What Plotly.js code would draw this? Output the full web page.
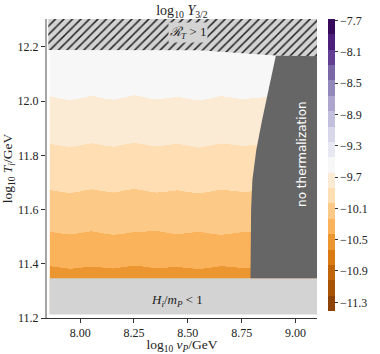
<!DOCTYPE html>
<html>
<head>
<meta charset="utf-8">
<script src="https://cdn.plot.ly/plotly-3.0.1.min.js"></script>
<style>
  html, body { margin: 0; padding: 0; background: #fff; }
  #plot { width: 380px; height: 354px; }
</style>
</head>
<body>
<div id="plot"></div>
<script>
// grid of log10 vP (columns) and log10 Ti (rows)
let vP = [7.858, 7.95, 8.05, 8.15, 8.25, 8.35, 8.45, 8.55, 8.65, 8.75, 8.85, 8.95, 9.1];
let Ti = [11.213, 11.347, 11.388, 11.515, 11.669, 11.838, 12.013, 12.189, 12.303];
// log10 Y_{3/2}, one row per Ti
let logY = [
  [-10.56, -10.56, -10.56, -10.56, -10.56, -10.56, -10.56, -10.56, -10.56, -10.56, -10.56, -10.56, -10.56],
  [-10.49, -10.49, -10.49, -10.49, -10.49, -10.49, -10.49, -10.49, -10.49, -10.49, -10.49, -10.49, -10.49],
  [-10.436, -10.420, -10.434, -10.422, -10.440, -10.424, -10.432, -10.418, -10.437, -10.425, -10.433, -10.433, -10.433],
  [-10.240, -10.226, -10.243, -10.224, -10.238, -10.245, -10.228, -10.241, -10.223, -10.239, -10.236, -10.236, -10.236],
  [-10.042, -10.028, -10.045, -10.031, -10.047, -10.030, -10.041, -10.026, -10.044, -10.034, -10.039, -10.039, -10.039],
  [-9.846, -9.832, -9.849, -9.834, -9.851, -9.835, -9.847, -9.830, -9.848, -9.838, -9.843, -9.843, -9.843],
  [-9.650, -9.636, -9.652, -9.638, -9.654, -9.639, -9.649, -9.635, -9.651, -9.641, -9.647, -9.647, -9.647],
  [-9.50, -9.50, -9.50, -9.50, -9.50, -9.50, -9.50, -9.50, -9.50, -9.50, -9.50, -9.50, -9.50],
  [-9.46, -9.46, -9.46, -9.46, -9.46, -9.46, -9.46, -9.46, -9.46, -9.46, -9.46, -9.46, -9.46]
];
let cbMin = -11.41, cbMax = -7.68, nBands = 19;
let cbTicks = [-7.7, -8.1, -8.5, -8.9, -9.3, -9.7, -10.1, -10.5, -10.9, -11.3];

// excluded regions
let rtX = [7.852, 8.55, 8.91, 9.1, 9.1, 7.852];            // R_T > 1 (hatched)
let rtY = [12.189, 12.188, 12.168, 12.166, 12.303, 12.303];
let ntX = [8.791, 8.791, 8.794, 8.800, 8.818, 8.845, 8.868, 8.909, 9.1, 9.1]; // no thermalization
let ntY = [11.347, 11.50, 11.60, 11.71, 11.82, 11.93, 12.02, 12.168, 12.168, 11.347];
let hmX = [7.858, 9.1, 9.1, 7.858];                           // H_i/m_P < 1
let hmY = [11.213, 11.213, 11.347, 11.347];

// matplotlib PuOr
let puor = ['#7f3b08', '#b35806', '#e08214', '#fdb863', '#fee0b6', '#f7f7f7',
            '#d8daeb', '#b2abd2', '#8073ac', '#542788', '#2d004b'];

function puorAt(t) {
  let p = t * (puor.length - 1);
  let i = Math.min(Math.floor(p), puor.length - 2);
  let f = p - i;
  let a = puor[i], b = puor[i + 1];
  let c = [1, 3, 5].map(function(k) {
    let u = parseInt(a.substr(k, 2), 16), v = parseInt(b.substr(k, 2), 16);
    return Math.round(u + (v - u) * f);
  });
  return 'rgb(' + c.join(',') + ')';
}

// one flat colour per contour band, like contourf
let bandScale = [];
for (let j = 0; j < nBands; j++) {
  let c = puorAt((j + 0.5) / nBands);
  bandScale.push([j / nBands, c]);
  bandScale.push([(j + 1) / nBands, c]);
}

let serif = 'Liberation Serif, Times New Roman, serif';

let contour = {
  type: 'contour',
  x: vP, y: Ti, z: logY,
  colorscale: bandScale,
  zauto: false, zmin: cbMin, zmax: cbMax,
  contours: {coloring: 'heatmap', showlines: false},
  line: {width: 0},
  hoverinfo: 'skip',
  colorbar: {
    x: 1.04, xanchor: 'left', xpad: 0,
    y: 0.512, yanchor: 'middle', ypad: 0,
    len: 292, lenmode: 'pixels',
    thickness: 6.5, thicknessmode: 'pixels',
    outlinewidth: 0,
    tickvals: cbTicks,
    ticks: 'outside', ticklen: 3, tickcolor: '#333',
    tickfont: {family: serif, size: 12, color: '#222'}
  }
};

let hatch = {
  type: 'scatter', mode: 'lines', x: rtX, y: rtY,
  fill: 'toself', fillcolor: '#d3d3d3',
  fillpattern: {shape: '/', bgcolor: '#d3d3d3', fgcolor: '#222', size: 6, solidity: 0.25},
  line: {width: 0}, hoverinfo: 'skip', showlegend: false
};
let noTherm = {
  type: 'scatter', mode: 'lines', x: ntX, y: ntY,
  fill: 'toself', fillcolor: '#666666',
  line: {width: 0}, hoverinfo: 'skip', showlegend: false
};
let lowH = {
  type: 'scatter', mode: 'lines', x: hmX, y: hmY,
  fill: 'toself', fillcolor: '#d3d3d3',
  line: {width: 0}, hoverinfo: 'skip', showlegend: false
};

let layout = {
  width: 380, height: 354,
  margin: {l: 47, r: 58, t: 19, b: 36},
  paper_bgcolor: '#fff', plot_bgcolor: '#fff',
  showlegend: false,
  font: {family: serif, size: 12, color: '#222'},
  title: {
    text: 'log<sub>10</sub> <i>Y</i><sub>3/2</sub>',
    font: {family: serif, size: 14, color: '#222'},
    x: 0.5, xref: 'paper', y: 0.972, yref: 'container', yanchor: 'middle'
  },
  xaxis: {
    range: [7.846, 9.1],
    tickvals: [8.0, 8.25, 8.5, 8.75, 9.0], tickformat: '.2f',
    ticks: 'outside', ticklen: 4, tickcolor: '#333',
    showline: true, linecolor: '#333', linewidth: 1,
    showgrid: false, zeroline: false,
    tickfont: {family: serif, size: 12, color: '#222'},
    title: {text: 'log<sub>10</sub> <i>v<sub>P</sub></i>/GeV', font: {family: serif, size: 13.5, color: '#222'}, standoff: 8}
  },
  yaxis: {
    range: [11.2, 12.303],
    tick0: 11.2, dtick: 0.2, tickformat: '.1f',
    ticks: 'outside', ticklen: 4, tickcolor: '#333',
    showline: true, linecolor: '#a6a6a6', linewidth: 2,
    showgrid: false, zeroline: false,
    tickfont: {family: serif, size: 12, color: '#222'},
    title: {text: 'log<sub>10</sub> <i>T<sub>i</sub></i>/GeV', font: {family: serif, size: 13.5, color: '#222'}, standoff: 6}
  },
  annotations: [
    {x: 8.5, y: 12.252, xref: 'x', yref: 'y', showarrow: false, bgcolor: '#d3d3d3', borderpad: 1,
     text: '<span style="font-family:DejaVu Serif;font-style:italic">ℛ</span><sub><i>T</i></sub> > 1',
     font: {family: serif, size: 13, color: '#222'}},
    {x: 8.45, y: 11.266, xref: 'x', yref: 'y', showarrow: false,
     text: '<i>H<sub>i</sub></i>/<i>m<sub>P</sub></i> < 1', font: {family: serif, size: 13, color: '#222'}},
    {x: 9.03, y: 11.805, xref: 'x', yref: 'y', showarrow: false, textangle: -90,
     text: 'no thermalization', font: {family: 'DejaVu Sans, sans-serif', size: 12, color: '#fff'}}
  ]
};

Plotly.newPlot('plot', [contour, lowH, noTherm, hatch], layout, {displayModeBar: false, staticPlot: true});
</script>
</body>
</html>
